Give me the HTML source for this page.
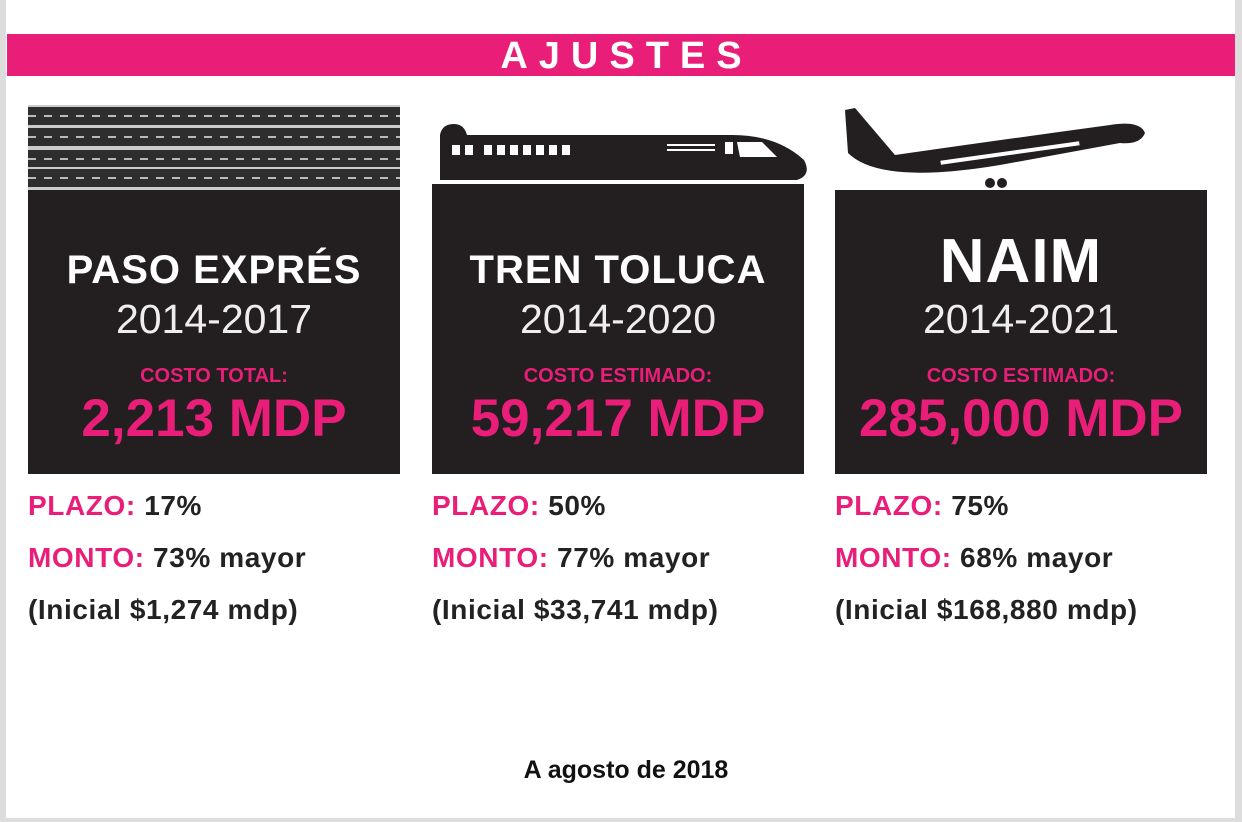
<!DOCTYPE html>
<html><head><meta charset="utf-8"><style>
body{margin:0;width:1242px;height:822px;background:#fff;position:relative;overflow:hidden;font-family:"Liberation Sans",sans-serif}
.abs{position:absolute}
.box{position:absolute;top:190px;width:372px;height:284px;background:#231f20;color:#fff;text-align:center}
.t{position:absolute;left:0;right:0;top:58px;font-size:40px;font-weight:bold;letter-spacing:1px}
.y{position:absolute;left:0;right:0;top:106px;font-size:41px;font-weight:normal;color:#eee}
.l{position:absolute;left:0;right:0;top:175px;font-size:20px;font-weight:bold;color:#e91e78}
.n{position:absolute;left:0;right:0;top:198px;font-size:53px;font-weight:bold;color:#e91e78}
.info{position:absolute;font-size:28px;font-weight:bold;color:#222;line-height:52px;letter-spacing:0.6px}
.info b{color:#e91e78}
</style></head><body>
<div class="abs" style="left:0;top:0;width:6px;height:822px;background:#ddd"></div>
<div class="abs" style="right:0;top:0;width:7px;height:822px;background:#ddd"></div>
<div class="abs" style="left:0;bottom:0;width:1242px;height:4px;background:#ddd"></div>
<div class="abs" style="left:7px;top:34px;width:1228px;height:42px;background:#e91e78;color:#fff;text-align:center;font-size:38px;font-weight:bold;letter-spacing:11px;text-indent:11px;line-height:44px">AJUSTES</div>
<svg class="abs" style="left:28px;top:105px" width="372" height="85">
<rect x="0" y="0" width="372" height="85" fill="#ccc"/>
<rect x="0" y="2" width="372" height="18" fill="#2e2e2e"/>
<rect x="0" y="23" width="372" height="18" fill="#2e2e2e"/>
<rect x="0" y="45" width="372" height="17" fill="#2e2e2e"/>
<rect x="0" y="64" width="372" height="18" fill="#2e2e2e"/>
<g stroke="#bbb" stroke-width="2" stroke-dasharray="8,8">
<line x1="0" y1="11" x2="372" y2="11"/><line x1="0" y1="32" x2="372" y2="32"/><line x1="0" y1="54" x2="372" y2="54"/><line x1="0" y1="73" x2="372" y2="73"/></g>
</svg>
<svg class="abs" style="left:432px;top:120px" width="380" height="72">
<path d="M8 15 Q10 4 22 4 Q32 4 35 15 L300 15 Q345 15 372 40 Q380 55 365 60 L8 60 Z" fill="#231f20"/>
<g fill="#fff"><rect x="20" y="25" width="8" height="10"/><rect x="33" y="25" width="8" height="10"/>
<rect x="52" y="25" width="8" height="10"/><rect x="65" y="25" width="8" height="10"/><rect x="78" y="25" width="8" height="10"/><rect x="91" y="25" width="8" height="10"/><rect x="104" y="25" width="8" height="10"/><rect x="117" y="25" width="8" height="10"/><rect x="130" y="25" width="8" height="10"/>
<rect x="235" y="24" width="48" height="2"/><rect x="235" y="29" width="48" height="2"/><rect x="293" y="22" width="8" height="12"/><path d="M305 22 L330 22 L345 37 L308 37 Z"/>
<rect x="45" y="60" width="330" height="4"/></g>
<rect x="0" y="64" width="372" height="8" fill="#231f20"/>
</svg>
<svg class="abs" style="left:840px;top:105px" width="370" height="85">
<path d="M5 5 L15 3 L55 50 Q160 35 270 20 Q300 15 305 28 Q300 40 280 38 L160 60 Q40 80 8 48 Z" fill="#231f20"/>
<rect x="100" y="46" width="140" height="4" fill="#fff" transform="rotate(-8 170 48)"/>
<circle cx="150" cy="78" r="5" fill="#231f20"/><circle cx="162" cy="78" r="5" fill="#231f20"/>
</svg>
<div class="box" style="left:28px"><div class="t">PASO EXPRÉS</div><div class="y">2014-2017</div><div class="l">COSTO TOTAL:</div><div class="n">2,213 MDP</div></div>
<div class="box" style="left:432px"><div class="t">TREN TOLUCA</div><div class="y">2014-2020</div><div class="l">COSTO ESTIMADO:</div><div class="n">59,217 MDP</div></div>
<div class="box" style="left:835px"><div class="t" style="font-size:62px;top:36px">NAIM</div><div class="y">2014-2021</div><div class="l">COSTO ESTIMADO:</div><div class="n">285,000 MDP</div></div>
<div class="info" style="left:28px;top:480px"><b>PLAZO:</b> 17%<br><b>MONTO:</b> 73% mayor<br>(Inicial $1,274 mdp)</div>
<div class="info" style="left:432px;top:480px"><b>PLAZO:</b> 50%<br><b>MONTO:</b> 77% mayor<br>(Inicial $33,741 mdp)</div>
<div class="info" style="left:835px;top:480px"><b>PLAZO:</b> 75%<br><b>MONTO:</b> 68% mayor<br>(Inicial $168,880 mdp)</div>
<div class="abs" style="left:0;width:1252px;top:756px;text-align:center;font-size:25px;font-weight:bold;color:#111">A agosto de 2018</div>
</body></html>
